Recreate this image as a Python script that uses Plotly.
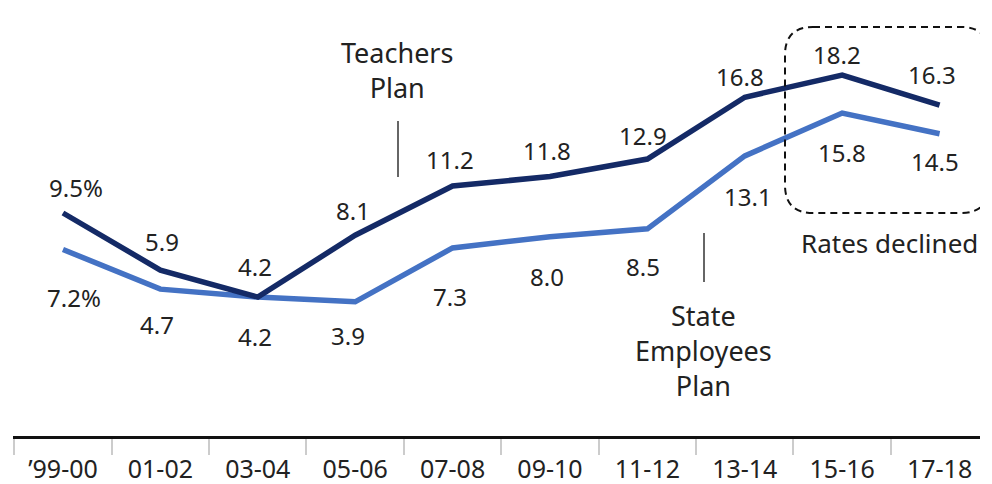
import plotly.graph_objects as go

categories = ["\u201999-00", "01-02", "03-04", "05-06", "07-08", "09-10", "11-12", "13-14", "15-16", "17-18"]
teachers = [9.5, 5.9, 4.2, 8.1, 11.2, 11.8, 12.9, 16.8, 18.2, 16.3]
state = [7.2, 4.7, 4.2, 3.9, 7.3, 8.0, 8.5, 13.1, 15.8, 14.5]
teachers_labels = ["9.5%", "5.9", "4.2", "8.1", "11.2", "11.8", "12.9", "16.8", "18.2", "16.3"]
state_labels = ["7.2%", "4.7", "4.2", "3.9", "7.3", "8.0", "8.5", "13.1", "15.8", "14.5"]

# label nudges (pixels): (dx, dy) with dy positive = up
t_nudge = [(13, 26), (2, 29), (-3, 31), (-2, 25), (-3, 27), (-3, 26), (-4, 24), (-5, 21), (-5, 21), (-8, 31)]
s_nudge = [(11, -48), (-3, -35), (-3, -39), (-7, -34), (-3, -49), (-3, -40), (-4, -38), (3, -41), (0, -39), (-5, -28)]

W, H = 992, 484
ML, MR, MT, MB = 13, 12, 0, 48
XR = [-0.513, 9.415]
YR = [-4.56, 22.93]

DARK = "#142a66"
LIGHT = "#4472c4"
TXT = "#222222"
FONT = "Noto Sans"

x = list(range(len(categories)))

fig = go.Figure()
fig.add_trace(go.Scatter(x=x, y=state, mode="lines", line=dict(color=LIGHT, width=5.5),
                         hoverinfo="skip", showlegend=False))
fig.add_trace(go.Scatter(x=x, y=teachers, mode="lines", line=dict(color=DARK, width=5.5),
                         hoverinfo="skip", showlegend=False))

ann = []
for i, (v, lab) in enumerate(zip(teachers, teachers_labels)):
    dx, dy = t_nudge[i]
    ann.append(dict(x=i, y=v, xref="x", yref="y", text=lab, showarrow=False,
                    xshift=dx, yshift=dy, font=dict(size=24, color=TXT, family=FONT)))
for i, (v, lab) in enumerate(zip(state, state_labels)):
    dx, dy = s_nudge[i]
    ann.append(dict(x=i, y=v, xref="x", yref="y", text=lab, showarrow=False,
                    xshift=dx, yshift=dy, font=dict(size=24, color=TXT, family=FONT)))

pw = W - ML - MR
ph = H - MT - MB
def px2x(px):
    return XR[0] + (px - ML) / pw * (XR[1] - XR[0])
def py2y(py):
    return YR[1] - (py - MT) / ph * (YR[1] - YR[0])

ann.append(dict(x=px2x(397), y=py2y(70), xref="x", yref="y", text="Teachers<br>Plan",
                showarrow=False, font=dict(size=27, color=TXT, family=FONT)))
ann.append(dict(x=px2x(703), y=py2y(350), xref="x", yref="y", text="State<br>Employees<br>Plan",
                showarrow=False, font=dict(size=27, color=TXT, family=FONT)))
ann.append(dict(x=px2x(889), y=py2y(243), xref="x", yref="y", text="Rates declined",
                showarrow=False, font=dict(size=26, color=TXT, family=FONT)))

shapes = [
    dict(type="line", xref="x", yref="y", x0=px2x(398), x1=px2x(398), y0=py2y(121), y1=py2y(177),
         line=dict(color="#333333", width=1.5)),
    dict(type="line", xref="x", yref="y", x0=px2x(704), x1=px2x(704), y0=py2y(233), y1=py2y(282),
         line=dict(color="#333333", width=1.5)),
]

# rounded dashed box
bx0, bx1, by0, by1, r = 785, 989, 27, 213, 28
def P(px, py):
    return f"{px2x(px)},{py2y(py)}"
path = (f"M {P(bx0 + r, by0)} L {P(bx1 - r, by0)} Q {P(bx1, by0)} {P(bx1, by0 + r)} "
        f"L {P(bx1, by1 - r)} Q {P(bx1, by1)} {P(bx1 - r, by1)} "
        f"L {P(bx0 + r, by1)} Q {P(bx0, by1)} {P(bx0, by1 - r)} "
        f"L {P(bx0, by0 + r)} Q {P(bx0, by0)} {P(bx0 + r, by0)} Z")
shapes.append(dict(type="path", xref="x", yref="y", path=path,
                   line=dict(color="#111111", width=2, dash="7px,5px")))

fig.update_layout(
    width=W, height=H, autosize=False,
    margin=dict(l=ML, r=MR, t=MT, b=MB, autoexpand=False),
    plot_bgcolor="white", paper_bgcolor="white",
    font=dict(family=FONT, color=TXT),
    annotations=ann, shapes=shapes,
    xaxis=dict(range=XR, tickmode="array", tickvals=x, ticktext=categories,
               ticks="", showgrid=False, zeroline=False, automargin=False,
               showline=True, linecolor="#111111", linewidth=2.5,
               tickfont=dict(size=25, color=TXT, family=FONT),
               ticklabelstandoff=9,
               minor=dict(tickmode="array", tickvals=[i - 0.5 for i in range(len(categories) + 1)],
                          ticks="outside", ticklen=16, tickwidth=2, tickcolor="#cccccc", showgrid=False)),
    yaxis=dict(range=YR, visible=False, showgrid=False, zeroline=False, automargin=False),
)

fig.write_html("out.html", config={"displayModeBar": False},
               post_script="document.body.style.margin='0';document.body.style.overflow='hidden';")
